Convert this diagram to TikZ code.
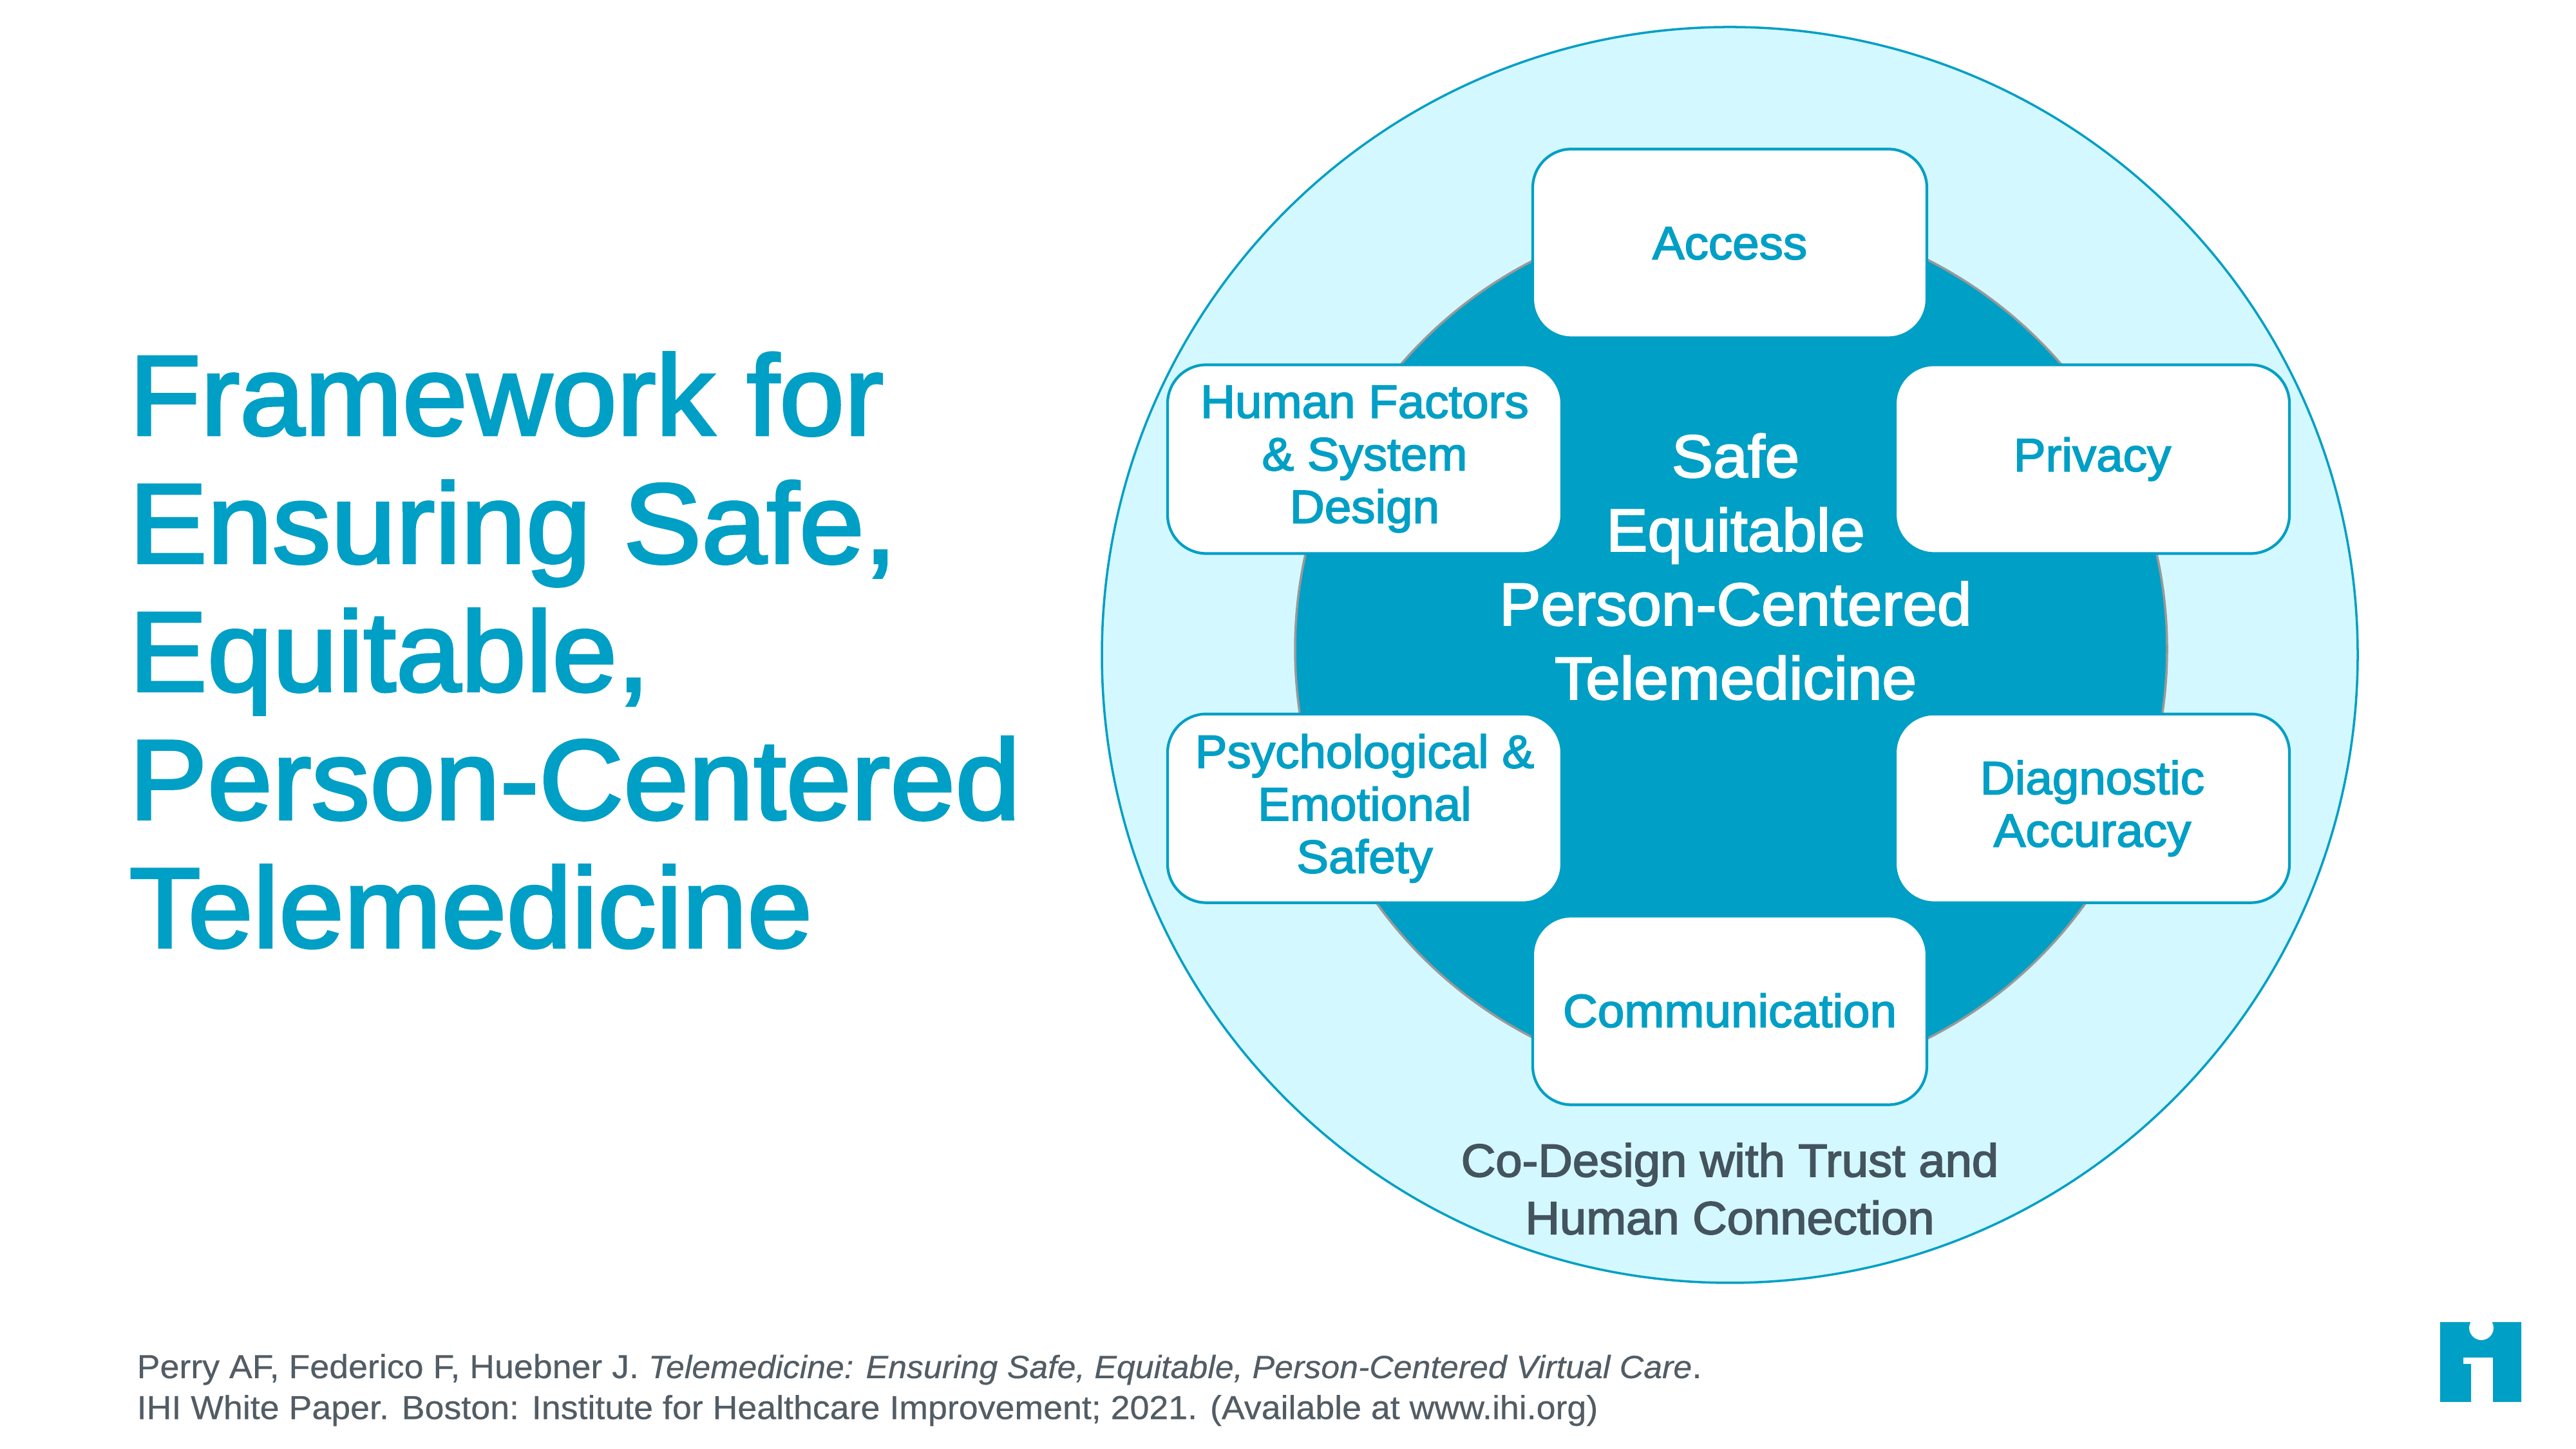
\documentclass[tikz,border=0pt]{standalone}
\usepackage{fontspec}
\setmainfont{Liberation Sans}[FakeBold=2.4, FakeStretch=1.03]
\newfontfamily\plainfont{Liberation Sans}[FakeBold=0.4, FakeStretch=1.04]
\usepackage{tikz}
\usetikzlibrary{positioning}
\definecolor{ihiblue}{HTML}{009FC5}
\definecolor{ihipale}{HTML}{D4F8FF}
\definecolor{ihislate}{HTML}{44545F}
\definecolor{ihigray}{HTML}{525C64}

\begin{document}
\begin{tikzpicture}[
  topicbox/.style={draw=ihiblue, line width=1.2pt, rounded corners=0.6cm, fill=white,
    minimum width=6.12cm, minimum height=2.93cm, align=center, text=ihiblue,
    font=\fontsize{20.6}{23.2}\selectfont},
]
  \useasboundingbox (0,0) rectangle (40,22.5);

  % Circles
  \node[circle, draw=ihiblue, line width=1pt, fill=ihipale, minimum size=19.5cm, inner sep=0pt]
    (outer) at (26.86,12.33) {};
  \node[circle, draw=gray!80, line width=1pt, fill=ihiblue, minimum size=13.54cm, inner sep=0pt]
    (inner) at (26.88,12.42) {};

  % Boxes
  \node[topicbox] (access) at (26.86,18.72) {Access};
  \node[topicbox] (privacy) at (32.49,15.37) {Privacy};
  \node[topicbox] (human) at (21.19,15.37) {Human Factors\\\& System\\Design};
  \node[topicbox, below=2.45cm of human] (psych) {Psychological \&\\Emotional\\Safety};
  \node[topicbox, below=2.45cm of privacy] (diag) {Diagnostic\\Accuracy};
  \node[topicbox] (comm) at (26.86,6.81) {Communication};

  % Centre text
  \node[align=center, text=white, font=\fontsize{26.6}{32.7}\selectfont] (centre) at (26.95,13.70)
    {Safe\\Equitable\\Person-Centered\\Telemedicine};

  % Outer ring label
  \node[align=center, text=ihislate, font=\fontsize{20.5}{25.4}\selectfont] (codesign) at (26.86,4.04)
    {Co-Design with Trust and\\Human Connection};

  % Title
  \node[anchor=west, align=left, inner sep=0pt, text=ihiblue, font=\fontsize{50.2}{56.6}\selectfont]
    (title) at (2.0,12.4)
    {Framework for\\Ensuring Safe,\\Equitable,\\Person-Centered\\Telemedicine};

  % Citation
  \node[anchor=south west, align=left, inner sep=0pt, text=ihigray, font=\plainfont\fontsize{14.7}{18.1}\selectfont]
    (citation) at (2.12,0.35)
    {Perry AF, Federico F, Huebner J. {\fontsize{14.2}{18.1}\selectfont\textit{Telemedicine: Ensuring Safe, Equitable, Person-Centered Virtual Care}}.\\
     IHI White Paper. Boston: Institute for Healthcare Improvement; 2021. (Available at www.ihi.org)};

  % Logo
  \fill[ihiblue] (37.89,1.97) -- (38.363,1.97) arc[start angle=151.7, end angle=388.3, radius=0.19]
    -- (39.15,1.97) -- (39.15,0.73) -- (38.71,0.73) -- (38.71,1.42) -- (38.25,1.42) -- (38.25,1.32)
    -- (38.37,1.32) -- (38.37,0.73) -- (37.89,0.73) -- cycle;
\end{tikzpicture}
\end{document}
